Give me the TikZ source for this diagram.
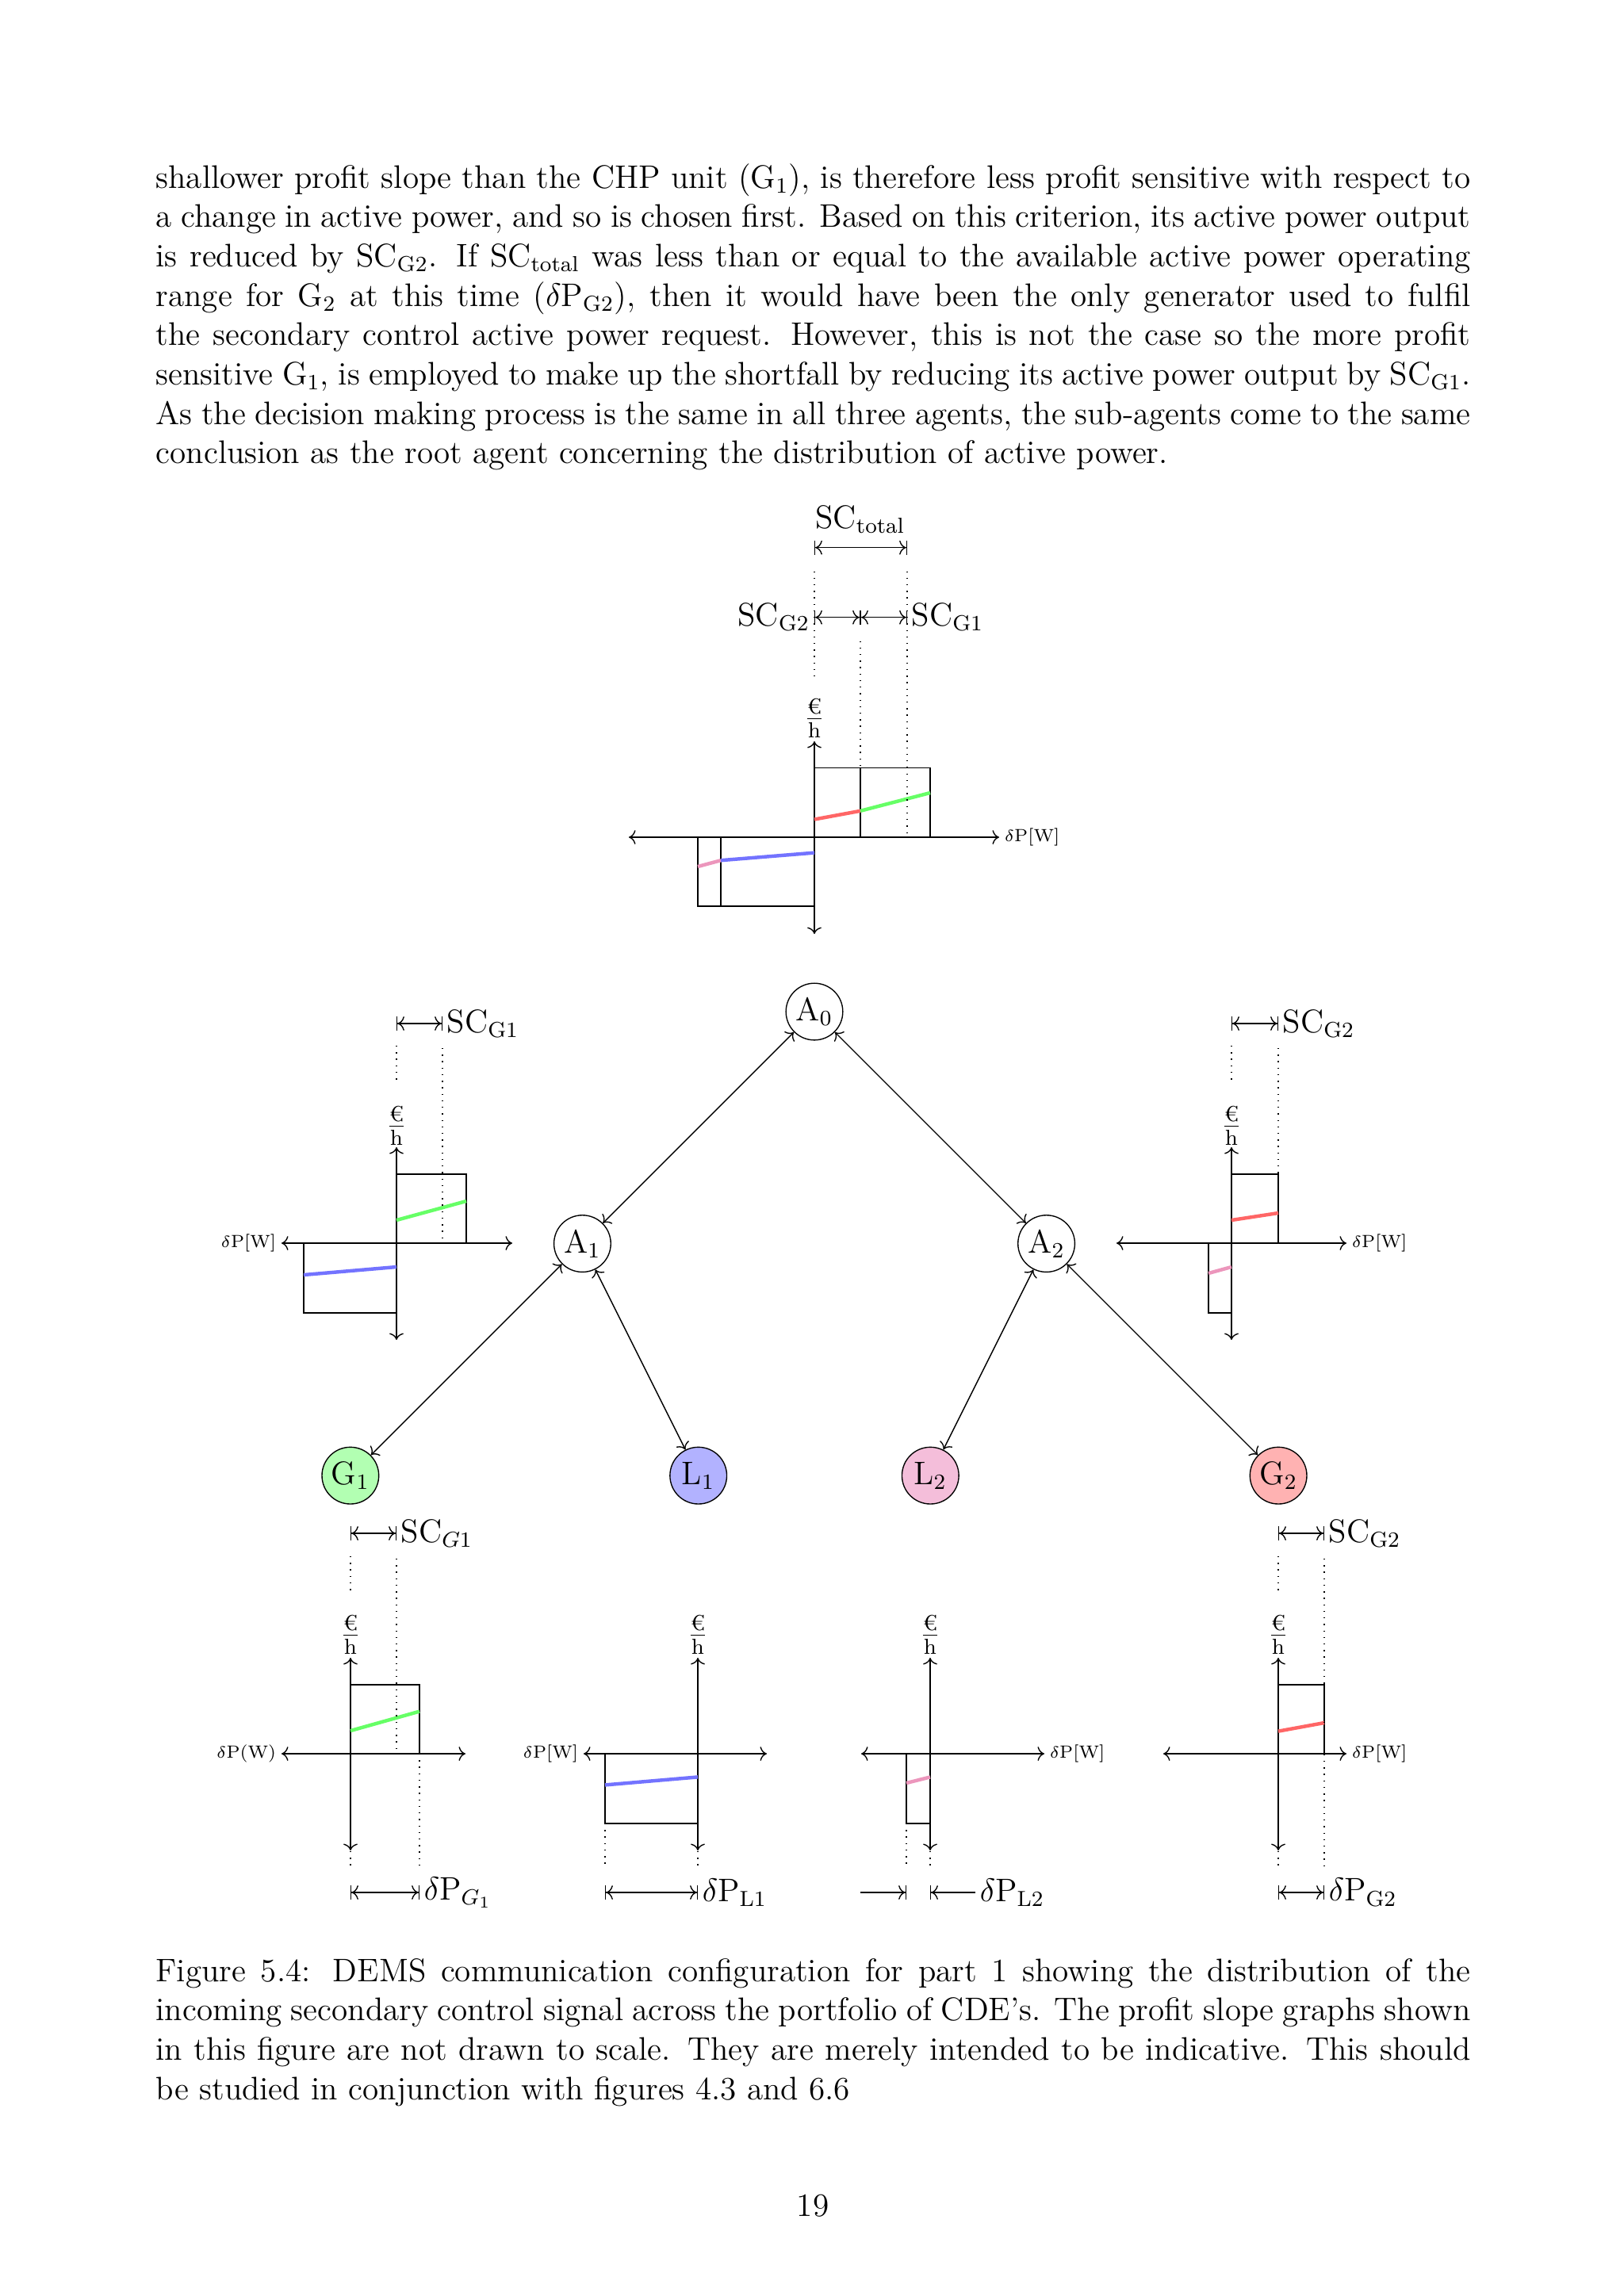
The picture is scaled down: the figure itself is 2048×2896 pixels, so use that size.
\documentclass[tikz,border=0pt,12pt]{standalone}
\usepackage{fontspec}
\usepackage{amsmath}
\usetikzlibrary{positioning,arrows.meta}
\definecolor{lpink}{RGB}{244,190,218}
\definecolor{pinkline}{RGB}{236,150,188}
\newcommand{\perhour}{$\frac{\text{€}}{\mathrm{h}}$}

\begin{document}
\begin{tikzpicture}[x=0.1025390625mm,y=-0.1025390625mm,
    agent/.style={circle,draw,minimum size=7.35mm,inner sep=0pt},
    small/.style={font=\fontsize{6.5}{8}\selectfont,inner sep=1.8pt},
    lbl/.style={inner sep=1.5pt},
    span/.style={{Bar[width=5.2pt]<}-{>Bar[width=5.2pt]}},
    halfspan/.style={-{>Bar[width=5.2pt]}},
    pagetext/.style={anchor=base west,text width=170mm,inner sep=0pt,align=justify},
    slope/.style={line width=1.3pt}]
  \useasboundingbox (0,0) rectangle (2048,2896);

  % text of the page
  \node (para) [pagetext] at (196,237) {\hyphenpenalty=10000 shallower profit slope than the CHP unit (G$_1$), is therefore less profit sensitive with respect to a change in active power, and so is chosen first. Based on this criterion, its active power output is reduced by SC$_{\mathrm{G2}}$. If SC$_{\mathrm{total}}$ was less than or equal to the available active power operating range for G$_2$ at this time ($\delta$P$_{\mathrm{G2}}$), then it would have been the only generator used to fulfil the secondary control active power request. However, this is not the case so the more profit sensitive G$_1$, is employed to make up the shortfall by reducing its active power output by SC$_{\mathrm{G1}}$. As the decision making process is the same in all three agents, the sub-agents come to the same conclusion as the root agent concerning the distribution of active power.};
  \node (cap) [pagetext] at (196,2499) {\hyphenpenalty=10000 Figure 5.4: DEMS communication configuration for part 1 showing the distribution of the incoming secondary control signal across the portfolio of CDE's. The profit slope graphs shown in this figure are not drawn to scale. They are merely intended to be indicative. This should be studied in conjunction with figures 4.3 and 6.6};
  \node (pnum) [anchor=base] at (1025,2795) {19};

  % agents
  \node (A0) [agent] at (1027,1276) {A$_0$};
  \node (A1) [agent,at=(A0),xshift=-30mm,yshift=-30mm] {A$_1$};
  \node (A2) [agent,at=(A0),xshift=30mm,yshift=-30mm] {A$_2$};
  \node (G1) [agent,fill=green!30,at=(A1),xshift=-30mm,yshift=-30mm] {G$_1$};
  \node (L1) [agent,fill=blue!30,at=(A1),xshift=15mm,yshift=-30mm] {L$_1$};
  \node (L2) [agent,fill=lpink,at=(A2),xshift=-15mm,yshift=-30mm] {L$_2$};
  \node (G2) [agent,fill=red!30,at=(A2),xshift=30mm,yshift=-30mm] {G$_2$};

  \path[draw,<->]
  (A0) edge (A1)
  (A0) edge (A2)
  (A1) edge (G1)
  (A1) edge (L1)
  (A2) edge (L2)
  (A2) edge (G2)
  ;

  % root agent graph
  \draw[<->] (793,1056) -- (1260,1056);
  \node (t-dp) [small,anchor=west] at (1260,1056) {$\delta$P[W]};
  \draw[<->] (1027,935) -- (1027,1178);
  \node (t-eh) at (1027,906) {\perhour};
  \draw (1027,968.5) rectangle (1085,1056);
  \draw (1085,968.5) rectangle (1173,1056);
  \draw (880,1056) rectangle (909,1143);
  \draw (909,1056) rectangle (1027,1143);
  \draw[slope,red!60] (1027,1033.5) -- (1085,1022.8);
  \draw[slope,green!60] (1085,1022.8) -- (1173,1000);
  \draw[slope,pinkline] (880,1093) -- (909,1085.2);
  \draw[slope,blue!55] (909,1085.2) -- (1027,1075.6);
  \draw[dotted] (1027,720.5) -- (1027,852.5);
  \draw[dotted] (1085,808.5) -- (1085,968.5);
  \draw[dotted] (1144,720.5) -- (1144,1056);
  \draw[span] (1027,690.7) -- (1144,690.7);
  \node (t-sct) at (1085,655) {SC$_{\mathrm{total}}$};
  \draw[span] (1027,778.7) -- (1085,778.7);
  \draw[span] (1085,778.7) -- (1144,778.7);
  \node (t-sc2) [lbl,anchor=east] at (1027,778.7) {SC$_{\mathrm{G2}}$};
  \node (t-sc1) [lbl,anchor=west] at (1144,778.7) {SC$_{\mathrm{G1}}$};

  % agent 1 graph
  \draw[<->] (355,1568) -- (646,1568);
  \node (l-dp) [small,anchor=east] at (355,1568) {$\delta$P[W]};
  \draw[<->] (500,1447) -- (500,1690);
  \node (l-eh) at (500,1420) {\perhour};
  \draw (500,1481) rectangle (588,1568);
  \draw (383,1568) rectangle (500,1656);
  \draw[slope,green!60] (500,1539) -- (588,1515);
  \draw[slope,blue!55] (383,1608) -- (500,1598);
  \draw[dotted] (500,1319) -- (500,1363);
  \draw[dotted] (558,1322) -- (558,1568);
  \draw[span] (500,1291) -- (558,1291);
  \node (l-sc) [lbl,anchor=west] at (558,1291) {SC$_{\mathrm{G1}}$};

  % agent 2 graph
  \draw[<->] (1408,1568) -- (1698,1568);
  \node (r-dp) [small,anchor=west] at (1698,1568) {$\delta$P[W]};
  \draw[<->] (1553,1447) -- (1553,1690);
  \node (r-eh) at (1553,1420) {\perhour};
  \draw (1553,1481) rectangle (1612,1568);
  \draw (1524,1568) rectangle (1553,1656);
  \draw[slope,red!60] (1553,1539) -- (1612,1530);
  \draw[slope,pinkline] (1524,1606) -- (1553,1598);
  \draw[dotted] (1553,1319) -- (1553,1363);
  \draw[dotted] (1612,1322) -- (1612,1481);
  \draw[span] (1553,1291) -- (1612,1291);
  \node (r-sc) [lbl,anchor=west] at (1612,1291) {SC$_{\mathrm{G2}}$};

  % G1 graph
  \draw[<->] (355,2212) -- (587,2212);
  \node (g1-dp) [small,anchor=east] at (355,2212) {$\delta$P(W)};
  \draw[<->] (442,2091) -- (442,2334);
  \node (g1-eh) at (442,2062) {\perhour};
  \draw (442,2125) rectangle (529,2212);
  \draw[slope,green!60] (442,2183) -- (529,2158.6);
  \draw[dotted] (442,1963) -- (442,2007);
  \draw[dotted] (500,1966) -- (500,2212);
  \draw[dotted] (442,2335) -- (442,2355);
  \draw[dotted] (529,2212) -- (529,2357);
  \draw[span] (442,1934) -- (500,1934);
  \node (g1-sc) [lbl,anchor=west] at (500,1934) {SC$_{G1}$};
  \draw[span] (442,2387) -- (529,2387);
  \node (g1-p) [lbl,anchor=west] at (529,2387) {$\delta$P$_{G_1}$};

  % L1 graph
  \draw[<->] (736,2212) -- (967,2212);
  \node (l1-dp) [small,anchor=east] at (736,2212) {$\delta$P[W]};
  \draw[<->] (880,2091) -- (880,2334);
  \node (l1-eh) at (880,2062) {\perhour};
  \draw (763,2212) rectangle (880,2300);
  \draw[slope,blue!55] (763,2251.4) -- (880,2241.4);
  \draw[dotted] (763,2300) -- (763,2357);
  \draw[dotted] (880,2335) -- (880,2357);
  \draw[span] (763,2387) -- (880,2387);
  \node (l1-p) [lbl,anchor=west] at (880,2387) {$\delta$P$_{\mathrm{L1}}$};

  % L2 graph
  \draw[<->] (1086,2212) -- (1317,2212);
  \node (l2-dp) [small,anchor=west] at (1317,2212) {$\delta$P[W]};
  \draw[<->] (1173,2091) -- (1173,2334);
  \node (l2-eh) at (1173,2062) {\perhour};
  \draw (1143,2212) rectangle (1173,2300);
  \draw[slope,pinkline] (1143,2249) -- (1173,2241.4);
  \draw[dotted] (1143,2300) -- (1143,2357);
  \draw[dotted] (1173,2335) -- (1173,2357);
  \draw[halfspan] (1085,2387) -- (1143,2387);
  \draw[halfspan] (1230,2387) -- (1173,2387);
  \node (l2-p) [lbl,anchor=west] at (1230,2387) {$\delta$P$_{\mathrm{L2}}$};

  % G2 graph
  \draw[<->] (1467,2212) -- (1698,2212);
  \node (g2-dp) [small,anchor=west] at (1698,2212) {$\delta$P[W]};
  \draw[<->] (1612,2091) -- (1612,2334);
  \node (g2-eh) at (1612,2062) {\perhour};
  \draw (1612,2125) rectangle (1670,2212);
  \draw[slope,red!60] (1612,2183.6) -- (1670,2173);
  \draw[dotted] (1612,1963) -- (1612,2007);
  \draw[dotted] (1670,1966) -- (1670,2357);
  \draw[dotted] (1612,2335) -- (1612,2357);
  \draw[span] (1612,1934) -- (1670,1934);
  \node (g2-sc) [lbl,anchor=west] at (1670,1934) {SC$_{\mathrm{G2}}$};
  \draw[span] (1612,2387) -- (1670,2387);
  \node (g2-p) [lbl,anchor=west] at (1670,2387) {$\delta$P$_{\mathrm{G2}}$};
\end{tikzpicture}
\end{document}
